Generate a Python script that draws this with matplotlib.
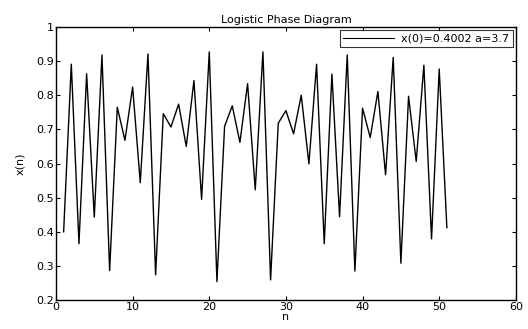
import matplotlib
matplotlib.use('Agg')
import matplotlib.pyplot as plt
from matplotlib.ticker import FuncFormatter

plt.rcParams['font.family'] = ['DejaVu Sans']

# 序列值
n = list(range(1, 52))
x = [0.400, 0.891, 0.365, 0.863, 0.443, 0.918, 0.286, 0.765, 0.668, 0.824,
     0.544, 0.921, 0.274, 0.746, 0.707, 0.774, 0.650, 0.843, 0.495, 0.927,
     0.254, 0.709, 0.769, 0.662, 0.834, 0.523, 0.927, 0.259, 0.718, 0.755,
     0.687, 0.800, 0.599, 0.891, 0.365, 0.862, 0.444, 0.918, 0.285, 0.762,
     0.676, 0.811, 0.567, 0.911, 0.308, 0.797, 0.606, 0.888, 0.379, 0.877,
     0.412]
xticks = [0, 10, 20, 30, 40, 50, 60]
yticks = [0.2, 0.3, 0.4, 0.5, 0.6, 0.7, 0.8, 0.9, 1.0]

FS = 8.0
fig = plt.figure(figsize=(5.28, 3.29), dpi=100)
ax = fig.add_axes([0.106, 0.088, 0.871, 0.830])
ax.plot(n, x, color='k', lw=1.0, label='x(0)=0.4002 a=3.7')
ax.set_xlim(0, 60)
ax.set_ylim(0.2, 1.0)
ax.set_xticks(xticks)
ax.set_yticks(yticks)
ax.yaxis.set_major_formatter(FuncFormatter(lambda v, p: '1' if abs(v - 1) < 1e-9 else f'{v:.1f}'))
ax.tick_params(direction='in', top=True, right=True, labelsize=FS, length=3, width=0.8, pad=1.5)
for s in ax.spines.values():
    s.set_linewidth(1.0)
ax.set_xlabel('n', fontsize=FS, labelpad=0)
ax.set_ylabel('x(n)', fontsize=FS, labelpad=8)
ax.set_title('Logistic Phase Diagram', fontsize=FS, pad=3)
leg = ax.legend(loc='upper right', fontsize=FS, frameon=True, fancybox=False,
                edgecolor='k', borderaxespad=0.3, handlelength=4.6, borderpad=0.3,
                handletextpad=0.6)
leg.get_frame().set_linewidth(0.8)
leg.get_lines()[0].set_linewidth(0.8)
fig.savefig('out.png', dpi=100)
